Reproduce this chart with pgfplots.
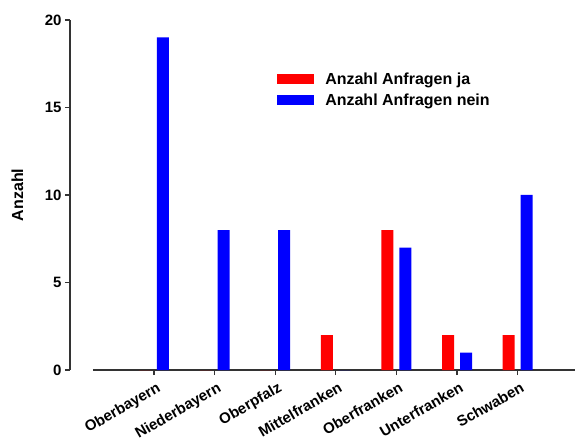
\documentclass[border=0pt]{standalone}
\usepackage{pgfplots}
\pgfplotsset{compat=1.18}
\usepackage{fontspec}
\setmainfont{Liberation Sans}
\begin{document}
\begin{tikzpicture}
\begin{axis}[
  name=ax,
  scale only axis,
  width=505pt, height=350pt,
  xmin=-1.386, xmax=6.947,
  ymin=0, ymax=20,
  ybar=6pt, bar width=12pt,
  axis x line=bottom, axis y line=left,
  axis line style={-, line width=1.2pt, black!80},
  x axis line style={shorten <=23pt},
  tick align=outside, major tick length=5pt,
  tick style={line width=1.2pt, black!80},
  xtick={0,...,6},
  xticklabels={Oberbayern,Niederbayern,Oberpfalz,Mittelfranken,Oberfranken,Unterfranken,Schwaben},
  ytick={0,5,10,15,20},
  tick label style={font=\bfseries\fontsize{15}{18}\selectfont},
  xticklabel style={rotate=30, anchor=north east, yshift=-3pt, xshift=2pt},
  /pgf/number format/assume math mode=true,
  ylabel={Anzahl},
  ylabel style={font=\bfseries\fontsize{16}{19}\selectfont, at={(axis description cs:-0.104,0.5)}, anchor=center},
  legend style={draw=none, fill=none, at={(0.41,0.856)}, anchor=north west,
    font=\bfseries\fontsize{16}{19}\selectfont, inner sep=0pt, row sep=4pt,
    /tikz/every odd column/.append style={column sep=9pt}},
  legend cell align=left,
  legend image code/.code={\fill[#1] (0pt,-5pt) rectangle (37pt,5pt);},
]
\addplot[fill=red, draw=none] coordinates {(0,0) (1,0) (2,0) (3,2) (4,8) (5,2) (6,2)};
\addplot[fill=blue, draw=none] coordinates {(0,19) (1,8) (2,8) (3,0) (4,7) (5,1) (6,10)};
\legend{Anzahl Anfragen ja, Anzahl Anfragen nein}
\end{axis}
\pgfresetboundingbox
\path ([shift={(-70pt,-77pt)}]ax.south west) rectangle ([shift={(0pt,20pt)}]ax.north east);
\end{tikzpicture}
\end{document}
